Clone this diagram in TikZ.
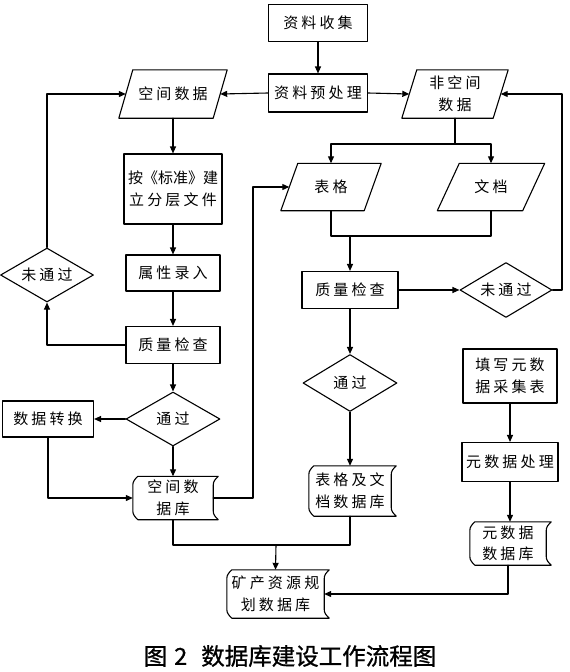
\documentclass[tikz,border=0pt]{standalone}
\usepackage{fontspec}
\setmainfont{Noto Sans CJK SC}[LetterSpace=21]
\newfontfamily\plainfont{Noto Sans CJK SC}
\newfontfamily\capfont{Noto Sans CJK SC}[FakeBold=0.9]
\usetikzlibrary{arrows.meta,shapes.geometric,calc}
\tikzset{
  ln/.style={line width=1.1pt, line cap=round, line join=round},
  arr/.style={ln, -{Triangle[length=7pt,width=6pt]}},
  txt/.style={font=\fontsize{15}{21.5}\selectfont, align=center, inner sep=0pt},
  rbox/.style 2 args={txt, draw, ln, rectangle, minimum width=#1, minimum height=#2},
  pbox/.style 2 args={txt, rectangle, minimum width=#1, minimum height=#2},
  dbnode/.style 2 args={txt, rectangle, minimum width=#1, minimum height=#2},
  dbox/.style 2 args={txt, draw, ln, diamond, aspect=2, minimum width=#1, minimum height=#2},
}
\newcommand\drawpara[2]{%
  \draw[ln] ([xshift=#2pt/2]#1.north west) -- ([xshift=#2pt/2]#1.north east)
    -- ([xshift=-#2pt/2]#1.south east) -- ([xshift=-#2pt/2]#1.south west) -- cycle;}
\newcommand\drawdb[1]{%
  \draw[ln] ([xshift=5pt]#1.north west) -- ([xshift=5pt]#1.north east)
    .. controls ([xshift=2pt,yshift=-3pt]#1.north east) and ([yshift=-5pt]#1.north east) .. ([yshift=-9pt]#1.north east)
    -- ([yshift=9pt]#1.south east)
    .. controls ([yshift=5pt]#1.south east) and ([xshift=2pt,yshift=3pt]#1.south east) .. ([xshift=5pt]#1.south east)
    -- ([xshift=5pt]#1.south west)
    .. controls ([xshift=2pt,yshift=3pt]#1.south west) and ([yshift=5pt]#1.south west) .. ([yshift=9pt]#1.south west)
    -- ([yshift=-9pt]#1.north west)
    .. controls ([yshift=-5pt]#1.north west) and ([xshift=2pt,yshift=-3pt]#1.north west) .. ([xshift=5pt]#1.north west);}
\begin{document}
\begin{tikzpicture}[x=1pt,y=-1pt]
\useasboundingbox[fill=white] (0,0) rectangle (570,672);
% nodes
\node[rbox={99pt}{37pt}] (collect) at (318,23) {资料收集};
\node[rbox={99pt}{38pt}] (pre) at (318,93) {资料预处理};
\node[pbox={94pt}{48pt}] (sp) at (173,94) {空间数据}; \drawpara{sp}{14}
\node[pbox={91pt}{48pt}] (nsp) at (455,94) {非空间\\数据}; \drawpara{nsp}{15}
\node[rbox={98pt}{70pt}] (std) at (173,189) {{\plainfont 按《标准》建}\\立分层文件};
\node[rbox={94pt}{36pt}] (attr) at (173,273) {属性录入};
\node[rbox={94pt}{37pt}] (qcL) at (173,345) {质量检查};
\node[dbox={94pt}{54pt}] (passL) at (173,419) {通过};
\node[rbox={91pt}{36pt}] (conv) at (48,419) {数据转换};
\node[dbox={93pt}{54pt}] (failL) at (47,275) {未通过};
\node[dbnode={80pt}{43pt}] (spdb) at (173,498) {空间数\\据库}; \drawdb{spdb}
\node[pbox={83pt}{47pt}] (tab) at (331,187) {表格}; \drawpara{tab}{17}
\node[pbox={85pt}{47pt}] (doc) at (491,187) {文档}; \drawpara{doc}{22}
\node[rbox={96pt}{37pt}] (qcR) at (350,290) {质量检查};
\node[dbox={92pt}{55pt}] (failR) at (506,290) {未通过};
\node[dbox={94pt}{57pt}] (passR) at (350,383) {通过};
\node[dbnode={82pt}{50pt}] (tdb) at (350,491) {表格及文\\档数据库}; \drawdb{tdb}
\node[rbox={94pt}{54pt}] (fill) at (510,376) {填写元数\\据采集表};
\node[rbox={96pt}{39pt}] (mproc) at (510,462) {元数据处理};
\node[dbnode={76pt}{43pt}] (mdb) at (508,543.5) {元数据\\数据库}; \drawdb{mdb}
\node[dbnode={97pt}{48pt}] (kc) at (275.5,594) {矿产资源规\\划数据库}; \drawdb{kc}
\node[inner sep=0pt, font=\capfont\fontsize{23.5}{25}\selectfont] (cap) at (290,656) {图\hspace{7pt}2\hspace{14pt}数据库建设工作流程图};
% helper coordinates
\coordinate (j1) at (253,498);
\coordinate (s1) at (455,144);
\coordinate (m1) at (350,236);
\coordinate (j2) at (562,290);
\coordinate (m2) at (276,545);
% connectors
\draw[arr] (collect.south) -- (pre.north);
\draw[arr] (pre.west) -- (sp.east);
\draw[arr] (pre.east) -- (nsp.west);
\draw[arr] (sp.south) -- (std.north);
\draw[arr] (std.south) -- (attr.north);
\draw[arr] (attr.south) -- (qcL.north);
\draw[arr] (qcL.south) -- (passL.north);
\draw[arr] (qcL.west) -| (failL.south);
\draw[arr] (failL.north) |- (sp.west);
\draw[arr] (passL.west) -- (conv.east);
\draw[arr] (conv.south) |- (spdb.west);
\draw[arr] (passL.south) -- (spdb.north);
\draw[arr] (spdb.east) -- (j1) |- (tab.west);
\draw[ln] (nsp.south) -- (s1);
\draw[arr] (s1) -| (tab.north);
\draw[arr] (s1) -| (doc.north);
\draw[ln] (tab.south) |- (m1);
\draw[ln] (doc.south) |- (m1);
\draw[arr] (m1) -- (qcR.north);
\draw[arr] (qcR.east) -- (failR.west);
\draw[arr] (failR.east) -- (j2) |- (nsp.east);
\draw[arr] (qcR.south) -- (passR.north);
\draw[arr] (passR.south) -- (tdb.north);
\draw[arr] (fill.south) -- (mproc.north);
\draw[arr] (mproc.south) -- (mproc.south |- mdb.north);
\draw[ln] (spdb.south) |- (m2);
\draw[ln] (tdb.south) |- (m2);
\draw[arr] (m2) -- (kc.north);
\draw[arr] (mdb.south) |- (kc.east);
\end{tikzpicture}
\end{document}
